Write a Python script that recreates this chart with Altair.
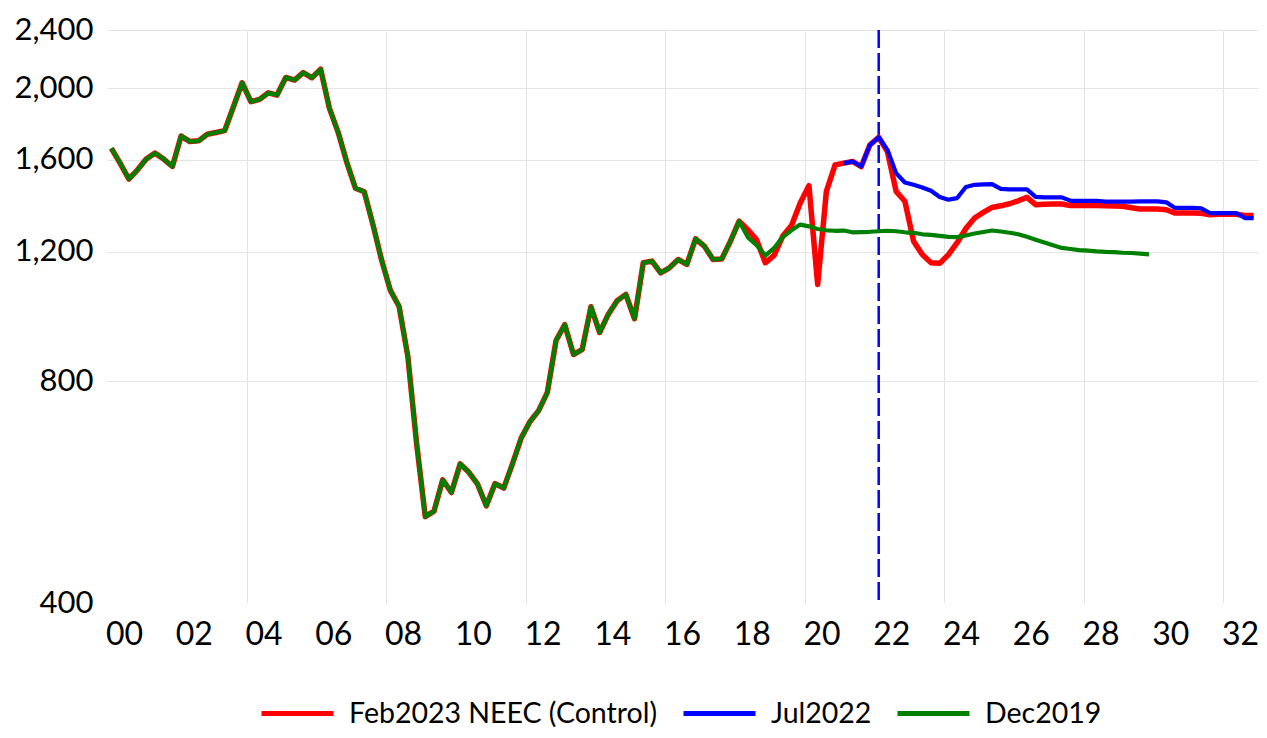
import altair as alt
import pandas as pd

# ---------------- data (quarterly, first point = 2000Q1) ----------------
START_YEAR = 2000

# common history 2000Q1 .. 2017Q4 (indices 0..71)
hist_common = [
    1658, 1583, 1506, 1550, 1603, 1633, 1603, 1566, 1723, 1693,
    1697, 1732, 1742, 1752, 1888, 2035, 1918, 1932, 1972, 1958,
    2069, 2052, 2101, 2067, 2123, 1880, 1744, 1587, 1463, 1447,
    1306, 1168, 1063, 1011, 865, 660, 524, 533, 588, 565,
    618, 602, 580, 542, 581, 573, 618, 670, 705, 730,
    773, 909, 955, 870, 884, 1010, 932, 987, 1029, 1050,
    973, 1159, 1165, 1123, 1141, 1171, 1153, 1249, 1221, 1171,
    1173, 1240,
]

# Feb2023 NEEC (Control): 2018Q1 .. 2032Q4
feb2023_after = [
    1320, 1285, 1245, 1159, 1186, 1260, 1302, 1397,
    1475, 1083, 1449, 1574, 1583, 1591, 1566, 1676, 1716, 1641,
    1449, 1405, 1240, 1189, 1159, 1157, 1189, 1234, 1290, 1333,
    1357, 1378, 1385, 1394, 1407, 1422, 1390, 1392, 1393, 1393,
    1386, 1386, 1386, 1386, 1385, 1384, 1383, 1377, 1371, 1371,
    1371, 1368, 1354, 1354, 1354, 1353, 1347, 1349, 1350, 1349,
    1344, 1344,
]

# Dec2019: 2018Q1 .. 2029Q4
dec2019_after = [
    1320, 1255, 1225, 1185, 1214, 1256, 1283, 1306,
    1299, 1288, 1283, 1281, 1282, 1275, 1276, 1277, 1279, 1281,
    1279, 1275, 1273, 1267, 1265, 1261, 1257, 1256, 1262, 1270,
    1276, 1282, 1278, 1273, 1267, 1257, 1246, 1235, 1224, 1214,
    1210, 1206, 1204, 1201, 1199, 1198, 1196, 1195, 1193, 1190,
]

# Jul2022: 2021Q1 .. 2032Q4
jul2022 = [
    1583, 1591, 1566, 1676, 1716, 1650,
    1534, 1490, 1479, 1467, 1452, 1424, 1412, 1419, 1469, 1479,
    1481, 1482, 1460, 1458, 1458, 1458, 1424, 1422, 1422, 1422,
    1407, 1407, 1407, 1407, 1403, 1403, 1403, 1403, 1404, 1404,
    1404, 1400, 1376, 1376, 1376, 1374, 1354, 1354, 1354, 1354,
    1333, 1333,
]

SERIES = ["Feb2023 NEEC (Control)", "Jul2022", "Dec2019"]
COLORS = ["#FF0000", "#0000FF", "#008000"]
WIDTHS = [5.5, 4.2, 4.2]

forecast_quarter = ("2022", 1)   # dashed marker at 2022Q1

x_ticks = list(range(2000, 2033, 2))
y_ticks = [400, 800, 1200, 1600, 2000, 2400]


def qtime(idx):
    return START_YEAR + (idx + 0.5) / 4.0


series_data = {
    SERIES[0]: (0, hist_common + feb2023_after),
    SERIES[1]: (84, jul2022),
    SERIES[2]: (0, hist_common + dec2019_after),
}

rows = []
for name, (start, vals) in series_data.items():
    for k, v in enumerate(vals):
        rows.append({"series": name, "t": qtime(start + k), "v": v})
df = pd.DataFrame(rows)

vy, vq = forecast_quarter
vdf = pd.DataFrame({"t": [int(vy) + (vq - 0.5) / 4.0]})

# ---------------- encodings ----------------
x_enc = alt.X(
    "t:Q",
    scale=alt.Scale(domain=[2000, 2033], nice=False, zero=False),
    axis=alt.Axis(
        values=x_ticks,
        labelExpr="(datum.value % 100 < 10 ? '0' : '') + (datum.value % 100)",
        title=None, ticks=False, domain=False, labelFontSize=32,
        labelOffset=17, labelFlush=False, labelPadding=16, labelOverlap=False,
        gridOpacity={"condition": {"test": "datum.value % 4 === 0 && datum.value > 2000", "value": 1}, "value": 0},
    ),
)
y_enc = alt.Y(
    "v:Q",
    scale=alt.Scale(type="log", domain=[400, 2400], nice=False),
    axis=alt.Axis(
        values=y_ticks, format=",", title=None, ticks=False, domain=False,
        labelPadding=14, labelFontSize=31,
        gridOpacity={"condition": {"test": "datum.value > 400", "value": 1}, "value": 0},
    ),
)
color_enc = alt.Color(
    "series:N",
    scale=alt.Scale(domain=SERIES, range=COLORS),
    legend=alt.Legend(
        title=None, orient="none", legendX=152, legendY=645, direction="horizontal",
        symbolType="stroke", symbolSize=5184, symbolStrokeWidth=5,
        labelFont="Lato", labelFontSize=28.5, labelColor="black",
        labelOffset=13, columnPadding=15, labelLimit=600,
    ),
)

rule = alt.Chart(vdf).mark_rule(color="#0000FF", strokeWidth=2.5, strokeDash=[18, 5]).encode(x=x_enc)

layers = [rule]
for name, w in zip(SERIES, WIDTHS):
    layers.append(
        alt.Chart(df)
        .transform_filter(alt.datum.series == name)
        .mark_line(strokeWidth=w, strokeJoin="round")
        .encode(x=x_enc, y=y_enc, color=color_enc)
    )

chart = (
    alt.layer(*layers)
    .properties(
        width=1151, height=573,
        padding={"left": 99, "top": 22, "right": 1, "bottom": 126},
        autosize=alt.AutoSizeParams(type="none"),
    )
    .configure_view(stroke=None)
    .configure_axis(labelFont="Lato", labelColor="black",
                    gridColor="#e4e4e4", gridWidth=1)
)

chart.save("out.html", embed_options={"renderer": "svg", "actions": False})
